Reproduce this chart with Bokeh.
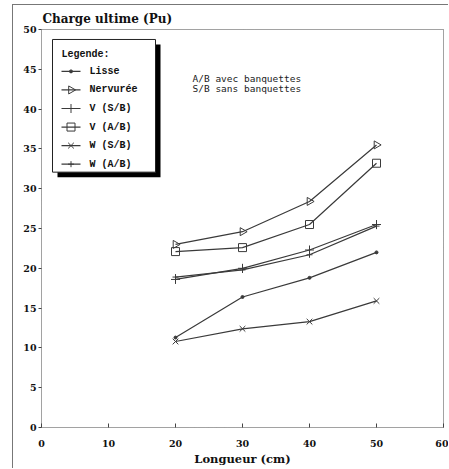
import math
from bokeh.plotting import figure
from bokeh.layouts import column
from bokeh.models import Label, FixedTicker, Range1d
from bokeh.core.properties import value
from bokeh.embed import file_html
from bokeh.resources import INLINE

# ---------------- data ----------------
longueur = [20, 30, 40, 50]
lisse = [11.3, 16.4, 18.8, 22.0]
nervuree = [23.0, 24.6, 28.4, 35.5]
v_sb = [18.6, 20.0, 22.3, 25.5]
v_ab = [22.1, 22.6, 25.5, 33.2]
w_sb = [10.8, 12.4, 13.3, 15.9]
w_ab = [18.9, 19.8, 21.7, 25.3]

series_names = ["Lisse", "Nervurée", "V (S/B)", "V (A/B)", "W (S/B)", "W (A/B)"]
x_ticks = [0, 10, 20, 30, 40, 50, 60]
y_ticks = [0, 5, 10, 15, 20, 25, 30, 35, 40, 45, 50]
title_text = "Charge ultime (Pu)"
x_label = "Longueur (cm)"
note_lines = ["A/B avec banquettes", "S/B sans banquettes"]
legend_title = "Legende:"

# ---------------- layout ----------------
W, H = 435, 463
ML, MR, MT, MB = 28, 5, 24, 40
FW = W - ML - MR
FH = H - MT - MB
XMAX, YMAX = 60, 50


def dx(px):
    return px * XMAX / FW


def dy(py):
    return YMAX - py * YMAX / FH


INK = "#3a3a3a"

p = figure(width=W, height=H, output_backend="svg", toolbar_location=None,
           x_range=Range1d(0, XMAX), y_range=Range1d(0, YMAX),
           min_border_left=ML, min_border_right=MR,
           min_border_top=MT, min_border_bottom=MB)
p.background_fill_color = "white"
p.border_fill_color = "white"
p.xgrid.visible = False
p.ygrid.visible = False
p.outline_line_color = "#444444"
p.outline_line_dash = "1 1"
p.outline_line_width = 1

p.title.text = title_text
p.title.text_font = "DejaVu Serif"
p.title.text_font_style = "bold"
p.title.text_font_size = "12px"
p.title.text_color = "#111111"
p.title.align = "left"
p.title.offset = 1
p.title.standoff = 8

for ax in (p.xaxis, p.yaxis):
    ax.axis_line_color = None
    ax.minor_tick_line_color = None
    ax.major_tick_line_color = "#444444"
    ax.major_label_text_font = "DejaVu Serif"
    ax.major_label_text_font_style = "bold"
    ax.major_label_text_font_size = "9.5px"
    ax.major_label_text_color = "#111111"

p.xaxis.ticker = FixedTicker(ticks=x_ticks)
p.yaxis.ticker = FixedTicker(ticks=y_ticks)
p.xaxis.major_tick_in = 4
p.xaxis.major_tick_out = 0
p.xaxis.major_label_standoff = 12
p.yaxis.major_tick_in = 0
p.yaxis.major_tick_out = 3
p.yaxis.major_label_standoff = 2

p.xaxis.axis_label = x_label
p.xaxis.axis_label_text_font = "DejaVu Serif"
p.xaxis.axis_label_text_font_style = "bold"
p.xaxis.axis_label_text_font_size = "11.5px"
p.xaxis.axis_label_text_color = "#111111"
p.xaxis.axis_label_standoff = 2

# ---------------- series ----------------
styles = [
    dict(marker="circle", size=3, fill=INK, angle=0.0),
    dict(marker="triangle", size=8, fill=None, angle=-math.pi / 2),
    dict(marker="cross", size=9, fill=None, angle=0.0),
    dict(marker="square", size=8, fill=None, angle=0.0),
    dict(marker="x", size=8, fill=None, angle=0.0),
    dict(marker="cross", size=6, fill=None, angle=0.0),
]
all_series = [lisse, nervuree, v_sb, v_ab, w_sb, w_ab]

for ys, st in zip(all_series, styles):
    p.line(longueur, ys, line_color=INK, line_width=1.2)
    p.scatter(longueur, ys, marker=st["marker"], size=st["size"],
              line_color=INK, fill_color=st["fill"], line_width=1,
              angle=st["angle"])

# ---------------- legend (drawn by hand) ----------------
box_l, box_t, box_r, box_b = 11, 10, 114, 143
sh = 5
p.quad(left=dx(box_l + sh), right=dx(box_r + sh), top=dy(box_t + sh),
       bottom=dy(box_b + sh), fill_color="black", line_color=None)
p.quad(left=dx(box_l), right=dx(box_r), top=dy(box_t), bottom=dy(box_b),
       fill_color="white", line_color="#222222", line_width=1)

p.add_layout(Label(x=dx(20), y=dy(25), text=legend_title,
                   text_font="Liberation Mono", text_font_style="bold",
                   text_font_size="10px", text_baseline="middle",
                   text_color="#111111"))

row0, row_step = 42, 18.6
for i, (name, st) in enumerate(zip(series_names, styles)):
    ry = dy(row0 + i * row_step)
    p.segment(x0=[dx(20)], y0=[ry], x1=[dx(39)], y1=[ry],
              line_color=INK, line_width=1.2)
    p.scatter([dx(29.5)], [ry], marker=st["marker"], size=st["size"],
              line_color=INK, fill_color=st["fill"], line_width=1,
              angle=st["angle"])
    p.text([dx(48)], [ry], text=[name], text_font=value("Liberation Mono"),
           text_font_style="bold", text_font_size="10px",
           text_baseline="middle", text_color="#111111")

# ---------------- notes ----------------
for j, line in enumerate(note_lines):
    p.add_layout(Label(x=dx(151), y=dy(49 + j * 10), text=line,
                       text_font="DejaVu Sans Mono", text_font_size="9.5px",
                       text_baseline="middle", text_color="#222222"))

# outer frame of the scanned page (left and top rules)
page = column(p, styles={"border-left": "1.5px solid #777777",
                         "border-top": "1.5px solid #777777",
                         "margin-left": "12px", "margin-top": "4px"})

open("out.html", "w").write(file_html(page, INLINE))
